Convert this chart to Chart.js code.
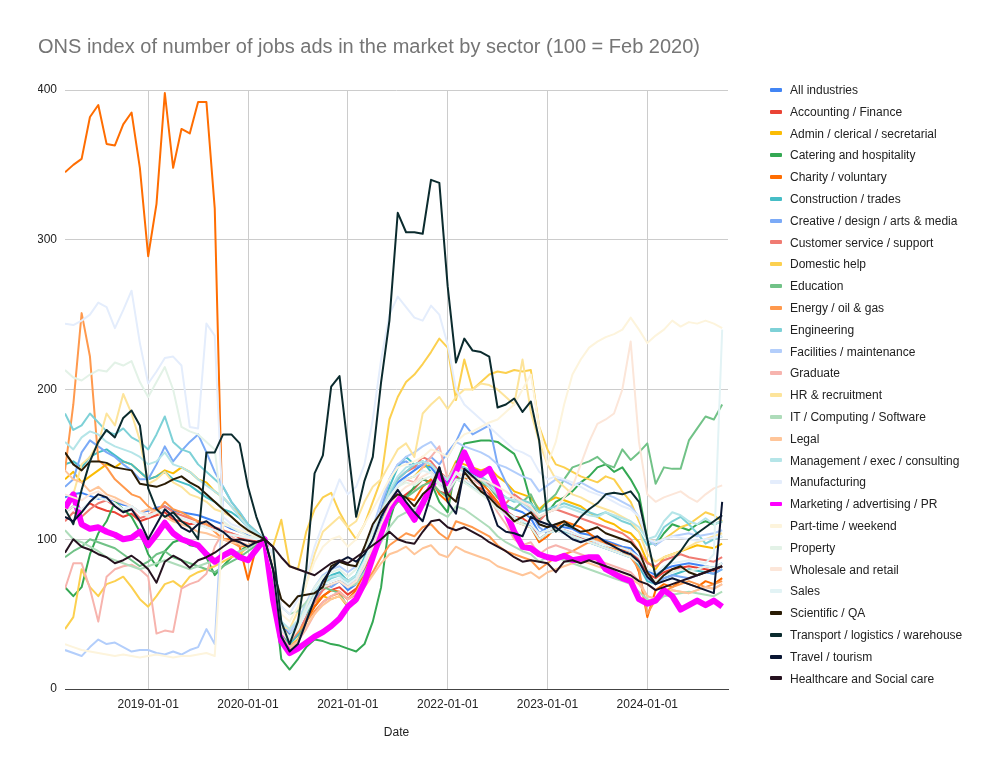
<!DOCTYPE html>
<html>
<head>
<meta charset="utf-8">
<script src="https://cdn.jsdelivr.net/npm/chart.js@4"></script>
<style>
  body { margin: 0; background: #fff; font-family: Arial, "Liberation Sans", sans-serif; }
  #wrap { position: relative; width: 1000px; height: 777px; }
  #legend { position: absolute; left: 0; top: 0; }
  .item { position: absolute; left: 770px; height: 14px; line-height: 14px; font-size: 12px; color: #222; white-space: nowrap; }
  .sw { display: inline-block; width: 12px; height: 4px; border-radius: 1px; vertical-align: middle; margin-right: 8px; position: relative; top: -1px; }
</style>
</head>
<body>
<div id="wrap">
  <canvas id="chart" width="1000" height="777"></canvas>
  <div id="legend"></div>
</div>
<script>
const chartTitle = "ONS index of number of jobs ads in the market by sector (100 = Feb 2020)";
const startYear = 2018, startMonth = 3;
const tickLabels = ["2019-01-01", "2020-01-01", "2021-01-01", "2022-01-01", "2023-01-01", "2024-01-01"];

const seriesNames = [
  "All industries", "Accounting / Finance", "Admin / clerical / secretarial", "Catering and hospitality",
  "Charity / voluntary", "Construction / trades", "Creative / design / arts & media", "Customer service / support",
  "Domestic help", "Education", "Energy / oil & gas", "Engineering", "Facilities / maintenance", "Graduate",
  "HR & recruitment", "IT / Computing / Software", "Legal", "Management / exec / consulting", "Manufacturing",
  "Marketing / advertising / PR", "Part-time / weekend", "Property", "Wholesale and retail", "Sales",
  "Scientific / QA", "Transport / logistics / warehouse", "Travel / tourism", "Healthcare and Social care"
];

const seriesColors = [
  "#4285f4", "#ea4335", "#fbbc04", "#34a853", "#ff6d01", "#46bdc6", "#7baaf7", "#f07b72",
  "#fcd04f", "#71c287", "#ff994d", "#7ed1d7", "#b3cefb", "#f7b4ae", "#fde49b", "#aedcba",
  "#ffc599", "#b5e5e8", "#e4edfc", "#ff00ff", "#fdf4dc", "#e3f2e7", "#fce6d9", "#e2f3f5",
  "#2a1c05", "#0b2b2e", "#0a1633", "#26121f"
];

// monthly values, first point 2018-03-01
const allIndustries = [128,130,131,129,127,128,125,123,122,118, 119,121,122,119,118,117,116,114,112,110, 107,105,103,102,100,84,44,36,42,52, 60,68,70,72,66,70,80,94,112,128, 138,142,146,150,148,141,138,150,147,144, 141,136,128,123,120,118,114,104,108,110, 108,107,104,103,101,99,97,95,94,88, 79,76,80,82,83,84,83,82,81,84];
const accounting = [118,122,120,124,121,119,118,115,117,112, 114,116,118,113,112,110,111,108,107,105, 104,101,100,99,100,82,40,33,38,47, 55,62,66,68,63,67,76,88,104,118, 126,130,134,140,138,132,130,142,140,136, 134,130,123,119,115,114,110,100,104,107, 106,104,101,100,98,97,95,93,92,86, 77,74,78,80,81,82,81,80,79,82];
const admin = [140,145,138,142,146,150,148,152,150,145, 140,142,146,144,148,145,140,138,132,128, 122,116,110,105,100,80,35,28,33,45, 58,62,60,62,55,60,70,85,108,125, 135,140,142,148,150,145,140,152,150,148, 146,148,142,138,132,130,128,120,125,128, 126,124,122,118,115,112,110,106,104,98, 85,80,88,90,92,94,96,95,94,97];
const catering = [68,62,68,90,104,112,125,120,115,105, 90,82,92,98,100,96,95,88,76,82, 88,92,96,98,100,70,20,13,20,28, 33,32,30,29,27,25,30,45,68,112, 130,128,135,140,138,125,118,150,164,165, 166,166,165,161,157,145,125,113,118,125, 128,132,138,142,148,150,145,148,140,130, 100,96,104,110,108,106,110,112,110,112];
const charity = [345,350,354,382,390,364,363,377,385,348, 289,324,398,348,374,371,392,392,321,100, 100,95,73,95,100,80,38,30,36,45, 55,62,66,65,60,66,78,92,108,120, 125,128,126,135,140,130,125,145,140,142, 138,132,125,118,112,110,108,98,102,108, 112,110,108,104,100,98,96,94,92,78, 48,66,70,68,72,70,68,72,70,74];
const construction = [150,152,148,155,158,160,156,152,150,145, 140,142,145,140,138,136,132,128,125,120, 118,114,108,104,100,78,38,30,36,48, 62,72,76,78,72,76,88,100,118,135, 148,155,150,152,145,138,132,140,138,135, 132,128,122,118,115,112,108,100,104,106, 105,102,100,98,96,94,92,90,88,82, 72,70,74,76,78,80,79,78,77,80];
const creative = [135,140,158,166,162,158,155,150,146,140, 140,150,162,152,159,165,170,158,145,135, 125,118,110,105,100,80,40,32,40,55, 65,70,68,72,70,74,85,100,120,140, 150,152,148,150,155,150,158,165,177,170, 173,176,150,138,128,122,118,108,104,106, 104,102,100,98,96,94,92,90,88,84, 74,70,74,76,75,74,76,78,77,80];
const customer = [112,118,115,120,124,126,122,118,120,114, 116,120,122,118,116,114,112,110,108,106, 104,102,100,98,100,80,38,32,38,48, 58,66,70,72,68,72,84,98,118,132, 140,145,148,155,152,145,140,150,146,142, 140,136,128,124,130,126,120,112,118,120, 118,116,114,112,110,108,106,104,100,92, 84,82,86,88,90,88,87,86,85,88];
const domestic = [40,48,80,68,62,70,72,75,68,60, 55,62,70,72,68,75,78,80,82,85, 88,90,95,98,100,95,113,82,80,105, 120,128,131,118,108,100,110,125,140,180, 195,205,210,217,225,234,228,193,220,200, 205,210,212,211,213,212,213,175,160,150, 148,145,142,140,138,142,140,132,125,112, 100,98,100,104,108,110,114,118,116,112];
const education = [88,92,95,100,98,96,94,90,86,82, 85,90,92,88,86,84,82,80,78,82, 85,88,92,96,100,75,30,25,32,45, 62,68,66,64,55,58,72,90,105,118, 125,128,132,136,138,132,128,140,142,140, 138,135,128,122,120,125,130,118,125,130, 140,148,150,152,155,150,148,160,153,158, 164,137,148,147,147,166,174,182,180,190];
const energy = [146,190,251,222,153,148,140,135,130,128, 122,118,125,120,118,115,112,110,105,100, 98,95,96,98,100,82,42,35,38,45, 52,58,62,64,60,63,70,78,88,96, 100,104,102,108,110,104,100,112,110,108, 105,102,96,92,90,88,86,80,84,88, 90,92,95,98,100,96,94,92,88,80, 50,60,65,68,70,72,70,68,70,72];
const engineering = [184,173,176,184,178,172,170,174,168,165, 160,170,182,165,160,158,150,145,140,135, 125,118,110,105,100,80,40,35,42,52, 62,70,74,76,70,75,85,98,115,130, 140,145,150,152,150,144,140,150,148,145, 142,138,132,128,125,126,124,118,120,122, 124,122,120,118,116,118,115,112,110,105, 96,98,108,112,115,110,104,97,100,102];
const facilities = [26,24,22,28,33,30,31,28,25,26, 26,24,23,25,23,26,28,40,30,128, 122,115,108,104,100,85,45,38,45,58, 68,76,80,82,78,82,92,108,125,140, 150,155,158,162,165,158,155,165,162,160, 158,155,150,148,145,142,140,132,136,140, 139,136,138,135,132,130,128,125,122,115, 100,96,100,102,103,104,102,103,104,106];
const graduate = [67,84,84,67,45,75,80,82,83,80, 75,37,39,38,67,70,72,77,95,105, 102,98,96,98,100,80,35,28,32,40, 50,58,62,65,60,64,75,90,108,125, 135,140,138,148,155,162,140,150,145,140, 136,128,118,110,100,96,98,90,94,96, 94,92,90,88,86,84,82,80,78,72, 62,60,64,66,65,64,66,68,67,70];
const hr = [120,130,150,155,164,184,176,197,184,166, 137,140,145,138,135,130,128,125,120,118, 115,110,105,102,100,80,42,40,52,70, 90,105,110,115,108,112,125,135,140,150, 160,164,155,184,190,195,187,195,200,200, 204,203,200,195,190,220,185,165,150,140, 135,130,128,125,122,120,118,115,112,105, 90,85,88,90,92,95,98,100,102,104];
const itComputing = [106,100,98,95,92,88,86,84,82,80, 82,84,86,84,82,80,82,84,86,88, 90,92,94,97,100,78,55,50,52,58, 64,68,70,72,68,70,78,88,98,108, 115,118,120,124,122,118,115,122,120,116, 112,108,102,98,95,92,90,85,88,88, 86,84,82,80,78,76,74,72,70,65, 60,58,62,63,64,65,64,63,62,65];
const legal = [146,140,138,132,135,130,128,125,122,118, 120,118,115,112,110,108,105,104,102,100, 98,97,96,98,100,78,30,26,32,42, 50,56,60,62,56,60,68,76,84,90, 92,95,90,94,96,90,88,95,92,90, 88,86,82,80,78,76,78,74,78,80, 82,84,86,84,82,80,78,76,74,70, 62,60,64,66,65,64,66,68,67,70];
const management = [165,160,168,172,170,165,162,160,158,155, 150,152,158,150,148,145,140,136,132,128, 122,115,108,104,100,82,45,40,46,56, 65,72,75,76,72,76,86,100,118,132, 142,148,150,152,150,144,140,148,145,142, 140,135,130,128,126,124,120,115,118,120, 122,120,118,116,115,118,116,114,112,108, 100,102,112,118,116,112,110,114,110,112];
const manufacturing = [244,243,246,250,258,255,241,253,266,231, 204,212,221,222,216,175,174,244,236,115, 110,108,104,102,100,90,55,50,60,75, 95,110,125,140,130,135,150,180,220,250, 262,255,248,246,256,250,230,200,190,185, 180,175,170,165,160,158,155,145,140,142, 140,138,135,132,130,128,125,122,120,115, 100,98,100,102,101,100,99,100,101,102];
const marketing = [121,130,110,107,108,105,103,100,101,105, 96,103,111,104,100,98,96,90,85,89, 92,88,86,93,100,60,32,24,27,31, 35,38,42,47,55,60,71,88,104,120, 129,122,113,124,135,143,133,145,158,146, 143,147,135,118,105,95,94,90,88,87, 89,86,87,88,88,80,77,74,72,60, 57,59,66,62,53,56,59,56,59,55];
const partTime = [30,28,26,25,24,23,22,23,22,21, 22,23,22,21,22,22,23,24,22,110, 108,106,104,102,100,85,50,45,55,70, 85,95,100,102,95,100,110,120,130,140, 148,150,152,155,160,158,155,165,170,172, 175,178,180,185,190,200,210,175,150,165, 190,210,220,228,232,235,237,240,248,240, 231,236,240,246,242,245,244,246,244,241];
const property = [213,208,206,210,213,212,218,216,219,205, 195,205,215,200,175,172,170,165,160,112, 108,105,102,101,100,80,40,35,42,55, 68,75,78,80,75,80,92,105,118,128, 135,138,136,140,142,136,132,140,138,134, 130,126,120,116,112,110,108,100,104,106, 104,102,100,98,96,94,92,90,88,84, 75,72,76,78,80,79,80,82,81,84];
const wholesale = [130,128,126,130,132,128,126,124,122,118, 116,118,120,116,114,112,110,108,106,104, 103,102,101,100,100,78,38,32,40,52, 62,68,70,72,68,72,82,95,110,122, 130,135,138,142,145,138,134,145,142,140, 140,138,135,132,128,125,122,115,118,120, 128,135,150,165,177,180,184,200,232,165, 130,125,128,130,132,128,125,130,134,136];
const sales = [118,122,120,125,128,126,124,120,122,118, 115,118,120,116,114,112,110,108,106,104, 103,102,101,100,100,80,40,34,40,52, 62,70,72,74,70,74,85,98,115,128, 136,140,142,146,144,138,134,144,140,136, 132,128,122,118,115,112,110,104,106,108, 106,104,102,100,98,96,95,94,92,88, 80,78,82,84,85,86,85,84,90,240];
const scientific = [158,150,146,152,152,151,148,147,146,137, 136,135,137,140,142,138,135,130,125,120, 115,110,106,103,100,80,60,55,62,63, 64,68,82,85,83,82,95,110,118,125, 130,128,122,130,135,148,130,125,145,138, 132,128,122,118,112,115,118,110,108,110, 112,108,105,106,108,104,102,100,98,92, 78,70,76,80,82,78,76,78,80,82];
const transport = [120,110,133,152,165,173,168,181,186,176, 134,120,115,118,112,108,100,158,158,170, 170,164,135,115,100,95,45,30,45,80, 144,156,202,209,162,115,139,155,205,246, 318,305,305,304,340,338,269,218,234,226, 225,222,188,190,194,185,192,166,113,105, 110,108,115,120,124,130,131,130,132,125, 100,75,80,86,92,100,104,108,112,116];
const travel = [115,112,118,125,130,128,122,118,120,112, 100,110,120,115,108,105,110,112,108,105, 100,98,95,98,100,80,35,25,30,45, 60,72,80,85,88,85,90,100,115,125, 133,125,118,112,130,148,125,117,147,142, 137,125,109,105,104,102,115,112,110,108, 104,100,98,100,102,98,95,92,90,85, 75,70,72,74,72,70,68,66,64,125];
const healthcare = [91,100,95,93,90,88,84,86,89,85, 80,71,85,89,86,81,86,88,91,95, 99,100,99,98,100,95,88,82,80,78, 76,80,84,86,84,88,92,96,100,105, 100,98,97,105,112,113,108,106,108,105, 102,98,95,92,88,85,86,85,84,78, 85,86,84,86,84,82,80,78,76,72, 70,66,68,70,72,74,76,78,80,82];

const seriesValues = [
  allIndustries, accounting, admin, catering, charity, construction, creative, customer,
  domestic, education, energy, engineering, facilities, graduate, hr, itComputing,
  legal, management, manufacturing, marketing, partTime, property, wholesale, sales,
  scientific, transport, travel, healthcare
];

function monthIndex(label) {
  const parts = label.split("-").map(Number);
  return (parts[0] - startYear) * 12 + (parts[1] - startMonth);
}

const datasets = seriesNames.map((name, i) => ({
  label: name,
  data: seriesValues[i].map((v, k) => ({ x: k, y: v })),
  borderColor: seriesColors[i],
  backgroundColor: seriesColors[i],
  borderWidth: name.startsWith("Marketing") ? 6 : 2,
  pointRadius: 0,
  tension: 0,
  borderJoinStyle: "round",
  order: seriesNames.length - i
}));

Chart.defaults.font.family = 'Arial, "Liberation Sans", sans-serif';
Chart.defaults.color = "#333";

new Chart(document.getElementById("chart"), {
  type: "line",
  data: { datasets: datasets },
  options: {
    responsive: false,
    animation: false,
    layout: { padding: { left: 38, right: 272, top: 0, bottom: 37 } },
    plugins: {
      legend: { display: false },
      tooltip: { enabled: false },
      title: {
        display: true,
        text: chartTitle,
        align: "start",
        color: "#757575",
        font: { size: 20, weight: "normal" },
        padding: { top: 35, bottom: 31 }
      }
    },
    scales: {
      x: {
        type: "linear",
        min: 0,
        max: 79.7,
        afterBuildTicks: (axis) => {
          axis.ticks = tickLabels.map(l => ({ value: monthIndex(l) }));
        },
        afterFit: (scale) => { scale.height = 51; },
        ticks: {
          padding: 8,
          maxRotation: 0,
          autoSkip: false,
          font: { size: 12 },
          color: "#222",
          callback: (value) => tickLabels.find(l => monthIndex(l) === value) || ""
        },
        grid: { color: "#cccccc", drawTicks: false },
        border: { color: "#444", width: 1 },
        title: { display: true, text: "Date", color: "#222", font: { size: 12 }, padding: { top: 14, bottom: 0 } }
      },
      y: {
        min: 0,
        max: 400,
        afterFit: (scale) => { scale.width = 27; },
        ticks: { stepSize: 100, padding: 8, font: { size: 12 }, color: "#222" },
        grid: { color: "#cccccc", drawTicks: false },
        border: { display: false }
      }
    }
  }
});

const legend = document.getElementById("legend");
seriesNames.forEach((name, i) => {
  const item = document.createElement("div");
  item.className = "item";
  item.style.top = (90 + i * 21.8 - 7) + "px";
  item.innerHTML = '<span class="sw" style="background:' + seriesColors[i] + '"></span>' + name.replace(/&/g, "&amp;");
  legend.appendChild(item);
});
</script>
</body>
</html>
